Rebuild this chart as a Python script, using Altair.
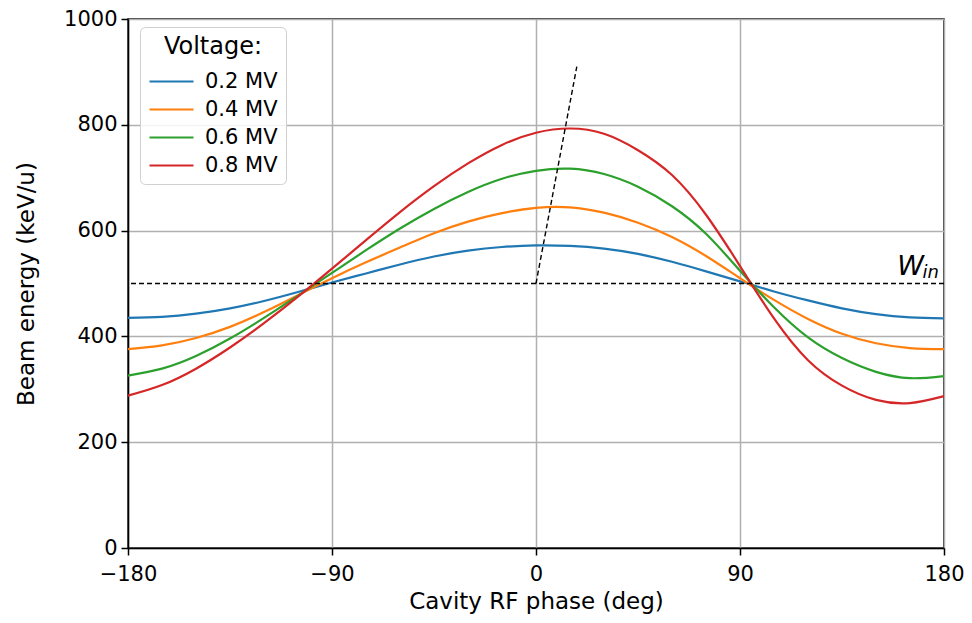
import altair as alt
import pandas as pd

# ---- data ----
phase_deg = [-180, -165, -150, -135, -120, -105, -90, -75, -60, -45, -30, -15,
             0, 15, 30, 45, 60, 75, 90, 105, 120, 135, 150, 165, 180]
energy_02 = [435, 437, 443, 453, 467, 484, 502, 519, 536, 551, 562, 569,
             572, 571, 566, 556, 541, 523, 504, 485, 468, 453, 442, 436, 434]
energy_04 = [376, 383, 397, 418, 446, 478, 510, 540, 568, 595, 617, 633,
             643, 644, 634, 615, 588, 552, 510, 469, 433, 405, 387, 378, 376]
energy_06 = [326, 339, 363, 396, 435, 477, 520, 563, 604, 641, 673, 698,
             713, 717, 707, 683, 646, 594, 524, 455, 398, 359, 333, 321, 325]
energy_08 = [288, 308, 339, 379, 425, 475, 528, 582, 635, 684, 727, 762,
             785, 793, 783, 752, 705, 630, 533, 434, 355, 307, 280, 274, 287]

voltage_labels = ["0.2 MV", "0.4 MV", "0.6 MV", "0.8 MV"]
voltage_colors = ["#1f77b4", "#ff7f0e", "#2ca02c", "#d62728"]

w_in_level = [500]
slope_phase = [0, 18]
slope_energy = [500, 910]
w_label_main = ["W"]
w_label_sub = ["in"]

x_ticks = [-180, -90, 0, 90, 180]
y_ticks = [0, 200, 400, 600, 800, 1000]

# ---- tables ----
rows = []
for lab, series in zip(voltage_labels, [energy_02, energy_04, energy_06, energy_08]):
    for p, e in zip(phase_deg, series):
        rows.append({"phase": p, "energy": e, "voltage": lab})
df = pd.DataFrame(rows)

win_df = pd.DataFrame({"energy": w_in_level})
slope_df = pd.DataFrame({"phase": slope_phase, "energy": slope_energy})
wlab_df = pd.DataFrame({"phase": [x_ticks[-1]], "energy": w_in_level,
                        "main": w_label_main, "sub": w_label_sub})

x_scale = alt.Scale(domain=[-180, 180], nice=False, zero=False)
y_scale = alt.Scale(domain=[0, 1000], nice=False)

x_enc = alt.X("phase:Q", scale=x_scale,
              axis=alt.Axis(values=x_ticks, format="d", labelFlush=False,
                            labelPadding=8, titlePadding=6,
                            title="Cavity RF phase (deg)"))
y_enc = alt.Y("energy:Q", scale=y_scale,
              axis=alt.Axis(values=y_ticks, format="d", labelPadding=4,
                            titlePadding=25, title="Beam energy (keV/u)"))

lines = alt.Chart(df).mark_line(strokeWidth=2.2, interpolate="natural").encode(
    x=x_enc,
    y=y_enc,
    color=alt.Color("voltage:N",
                    scale=alt.Scale(domain=voltage_labels, range=voltage_colors),
                    legend=alt.Legend(title="Voltage:", orient="none",
                                      legendX=12, legendY=8)),
    order=alt.Order("phase:Q"),
)

win_rule = alt.Chart(win_df).mark_rule(color="black", strokeDash=[5, 3],
                                       strokeWidth=1.4).encode(
    y=alt.Y("energy:Q", scale=y_scale))

slope_line = alt.Chart(slope_df).mark_line(color="black", strokeDash=[5, 3],
                                           strokeWidth=1.4).encode(
    x=alt.X("phase:Q", scale=x_scale),
    y=alt.Y("energy:Q", scale=y_scale))

w_text = alt.Chart(wlab_df).mark_text(fontSize=27, fontStyle="italic", align="right",
                                      baseline="alphabetic", dx=-20, dy=-9,
                                      font="DejaVu Sans", color="black").encode(
    x=alt.X("phase:Q", scale=x_scale), y=alt.Y("energy:Q", scale=y_scale), text="main:N")
in_text = alt.Chart(wlab_df).mark_text(fontSize=18, fontStyle="italic", align="right",
                                       baseline="alphabetic", dx=-5, dy=-6,
                                       font="DejaVu Sans", color="black").encode(
    x=alt.X("phase:Q", scale=x_scale), y=alt.Y("energy:Q", scale=y_scale), text="sub:N")

chart = alt.layer(lines, win_rule, slope_line, w_text, in_text).properties(
    width=816, height=529,
    padding={"left": 120, "top": 11, "right": 20, "bottom": 67},
    autosize=alt.AutoSizeParams(type="none"),
).configure_axis(
    domainColor="black", domainWidth=1.5,
    tickColor="black", tickWidth=1.5, tickSize=7,
    labelFont="DejaVu Sans", titleFont="DejaVu Sans",
    labelFontSize=21, titleFontSize=23, titleFontWeight="normal",
    labelColor="black", titleColor="black",
    gridColor="#b0b0b0", gridWidth=1.5,
).configure_view(
    stroke="black", strokeWidth=1.5
).configure_legend(
    titleFont="DejaVu Sans", labelFont="DejaVu Sans",
    titleFontSize=24, labelFontSize=21, titleFontWeight="normal",
    titleColor="black", labelColor="black",
    symbolType="M-1,0L3,0", symbolSize=484, symbolStrokeWidth=2.2,
    labelOffset=32, padding=8, cornerRadius=5,
    strokeColor="#d0d0d0", fillColor="rgba(255,255,255,0.85)",
    titleAnchor="middle", rowPadding=5, titlePadding=10,
)

chart.save("out.html", embed_options={"renderer": "svg", "actions": False})
